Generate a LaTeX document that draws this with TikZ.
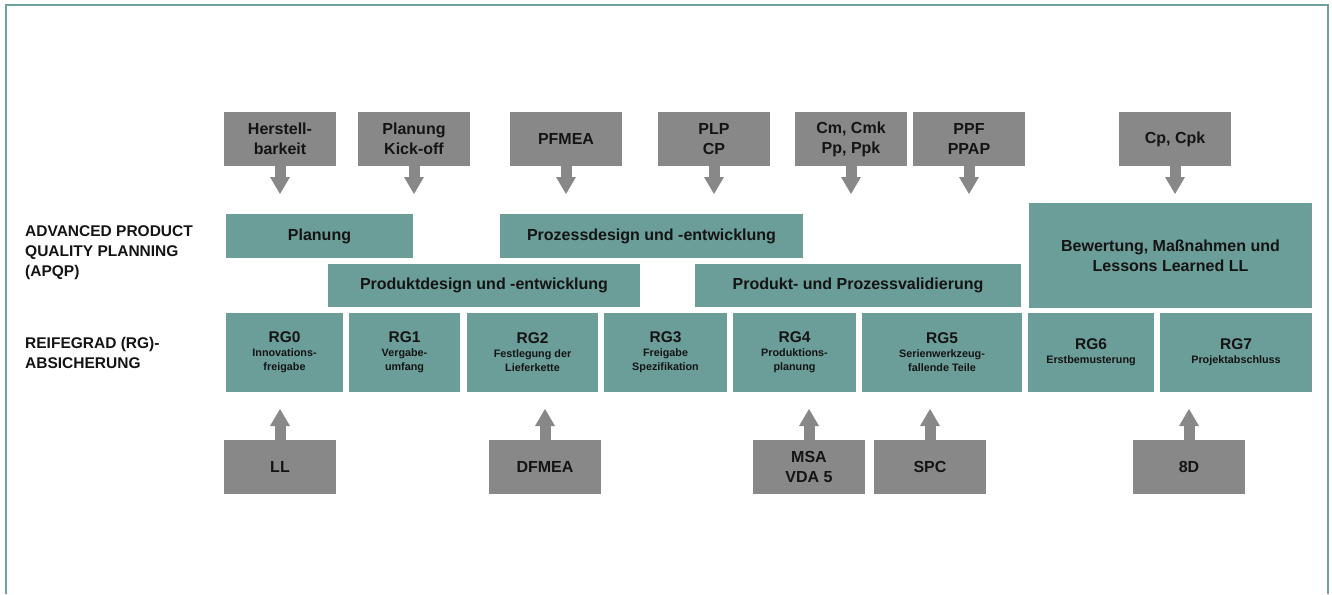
\documentclass[tikz,border=0pt]{standalone}
\usepackage{fontspec}
\setmainfont{Liberation Sans}
\usetikzlibrary{arrows.meta}
\definecolor{apqpteal}{RGB}{107,157,153}
\definecolor{inputgray}{RGB}{136,136,136}
\definecolor{textblack}{RGB}{20,20,20}
\definecolor{framecol}{RGB}{112,162,157}
\newcommand{\rgtitle}{\fontsize{15.5}{14}\selectfont}
\newcommand{\rgsub}{\fontsize{10.8}{14}\selectfont}
\tikzset{
  grayin/.style={fill=inputgray, minimum width=112pt, minimum height=54pt, inner sep=0pt,
    align=center, text=textblack, font=\fontsize{16}{20}\selectfont\bfseries},
  phase/.style={fill=apqpteal, minimum height=44pt, inner sep=0pt,
    align=center, text=textblack, font=\fontsize{16}{20}\selectfont\bfseries},
  rgbox/.style={fill=apqpteal, minimum height=79pt, inner sep=0pt,
    align=center, text=textblack, font=\fontsize{10.8}{14}\selectfont\bfseries},
  rowlabel/.style={anchor=west, align=left, inner sep=0pt, text=textblack,
    font=\fontsize{15.5}{20}\selectfont\bfseries},
  blockarrow/.style={inputgray, line width=11pt, -{Triangle[width=20pt,length=17pt,line width=0pt]}}
}

\begin{document}
\begin{tikzpicture}[x=1pt,y=-1pt]
\useasboundingbox (0,0) rectangle (1332,594);
\draw[framecol, line width=1.5pt] (6,594) -- (6,5) -- (1328,5) -- (1328,594);

\coordinate (toptip) at (0,194);
\coordinate (bottip) at (0,409);

\node[rowlabel] (apqp) at (25,253) {ADVANCED PRODUCT\\QUALITY PLANNING\\(APQP)};
\node[rowlabel] (reife) at (25,352.5) {REIFEGRAD (RG)-\\ABSICHERUNG};

\node[grayin] (herst) at (280,139) {Herstell-\\barkeit};
\node[grayin] (kickoff) at (414,139) {Planung\\Kick-off};
\node[grayin] (pfmea) at (566,139) {PFMEA};
\node[grayin] (plp) at (714,139) {PLP\\CP};
\node[grayin] (cmk) at (851,139) {Cm, Cmk\\Pp, Ppk};
\node[grayin] (ppap) at (969,139) {PPF\\PPAP};
\node[grayin] (cpk) at (1175,139) {Cp, Cpk};

\node[phase, minimum width=187pt] (planung) at (319.5,236) {Planung};
\node[phase, minimum width=303pt] (prozess) at (651.5,236) {Prozessdesign und -entwicklung};
\node[phase, minimum width=312pt, minimum height=43pt] (produkt) at (484,285.5) {Produktdesign und -entwicklung};
\node[phase, minimum width=326pt, minimum height=43pt] (valid) at (858,285.5) {Produkt- und Prozessvalidierung};
\node[phase, minimum width=283pt, minimum height=105pt] (bewert) at (1170.5,255.5) {Bewertung, Maßnahmen und\\Lessons Learned LL};

\node[rgbox, minimum width=117pt] (rg0) at (284.5,352.5) {\rgtitle RG0\\\rgsub Innovations-\\freigabe};
\node[rgbox, minimum width=111pt] (rg1) at (404.5,352.5) {\rgtitle RG1\\\rgsub Vergabe-\\umfang};
\node[rgbox, minimum width=131pt] (rg2) at (532.5,352.5) {\rgtitle RG2\\\rgsub Festlegung der\\Lieferkette};
\node[rgbox, minimum width=123pt] (rg3) at (665.5,352.5) {\rgtitle RG3\\\rgsub Freigabe\\Spezifikation};
\node[rgbox, minimum width=123pt] (rg4) at (794.5,352.5) {\rgtitle RG4\\\rgsub Produktions-\\planung};
\node[rgbox, minimum width=160pt] (rg5) at (942,352.5) {\rgtitle RG5\\\rgsub Serienwerkzeug-\\fallende Teile};
\node[rgbox, minimum width=126pt] (rg6) at (1091,352.5) {\rgtitle RG6\\\rgsub Erstbemusterung};
\node[rgbox, minimum width=152pt] (rg7) at (1236,352.5) {\rgtitle RG7\\\rgsub Projektabschluss};

\node[grayin] (ll) at (280,467) {LL};
\node[grayin] (dfmea) at (545,467) {DFMEA};
\node[grayin] (msa) at (809,467) {MSA\\VDA 5};
\node[grayin] (spc) at (930,467) {SPC};
\node[grayin] (achtd) at (1189,467) {8D};

\foreach \src in {herst,kickoff,pfmea,plp,cmk,ppap,cpk}
  \draw[blockarrow] (\src) -- (\src |- toptip);
\foreach \src in {ll,dfmea,msa,spc,achtd}
  \draw[blockarrow] (\src) -- (\src |- bottip);
\end{tikzpicture}
\end{document}
